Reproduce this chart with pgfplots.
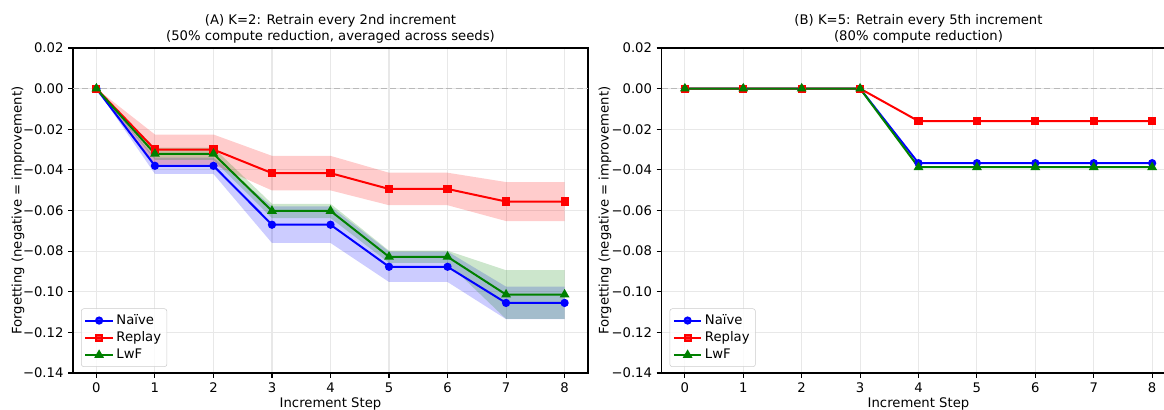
\documentclass[border=0pt]{standalone}
\usepackage{fontspec}
\setmainfont{DejaVu Sans}
\usepackage{pgfplots}
\pgfplotsset{compat=1.18}
\usepackage{pgfplotstable}

\newlength\px \setlength\px{0.75pt}
\newcommand\fs{\fontsize{9.9}{11.9}\selectfont}

\definecolor{mgreen}{RGB}{0,128,0}

% K=2 means
\pgfplotstableread{
x naive replay lwf
0 0 0 0
1 -0.0380 -0.0300 -0.0321
2 -0.0380 -0.0300 -0.0321
3 -0.0670 -0.0416 -0.0602
4 -0.0670 -0.0416 -0.0602
5 -0.0877 -0.0494 -0.0828
6 -0.0877 -0.0494 -0.0828
7 -0.1055 -0.0556 -0.1014
8 -0.1055 -0.0556 -0.1014
}\kleft

% K=5 means
\pgfplotstableread{
x naive replay lwf
0 0 0 0
1 0 0 0
2 0 0 0
3 0 0 0
4 -0.0367 -0.0160 -0.0387
5 -0.0367 -0.0160 -0.0387
6 -0.0367 -0.0160 -0.0387
7 -0.0367 -0.0160 -0.0387
8 -0.0367 -0.0160 -0.0387
}\kright

\pgfplotsset{
  panel/.style={
    scale only axis, height=325\px,
    xmin=-0.4, xmax=8.4, ymin=-0.14, ymax=0.02,
    xtick={0,1,2,3,4,5,6,7,8},
    ytick={-0.14,-0.12,-0.10,-0.08,-0.06,-0.04,-0.02,0,0.02},
    yticklabels={−0.14,−0.12,−0.10,−0.08,−0.06,−0.04,−0.02,0.00,0.02},
    /pgf/number format/assume math mode=true,
    ticklabel style={font=\fs},
    label style={font=\fs},
    xlabel style={yshift=4\px},
    title style={font=\fs, align=center, yshift=-8\px},
    tick align=outside, xtick pos=bottom, ytick pos=left,
    major tick length=3.6pt,
    every tick/.style={black, line width=0.8pt},
    axis line style={black, line width=0.8pt},
    grid=major, major grid style={black!9, line width=0.8pt},
    xlabel={Increment Step},
    ylabel={Forgetting (negative = improvement)},
    legend cell align=left,
    legend style={at={(0,0)}, anchor=south west, xshift=8\px, yshift=6\px,
      font=\fs, draw=black!20, rounded corners=2pt, fill=white,
      fill opacity=0.8, text opacity=1, inner sep=2.4pt},
    legend image code/.code={\draw[mark repeat=2, mark phase=2]
      plot coordinates {(0cm,0cm) (0.36cm,0cm) (0.72cm,0cm)};},
    every axis plot/.append style={line width=1.5pt, mark size=2.3pt},
  },
  band/.style={draw=none, fill=#1, fill opacity=0.2, forget plot, mark=none},
}

\begin{document}
\begin{tikzpicture}

\begin{axis}[panel, at={(73\px,37\px)}, anchor=south west, width=515\px,
  ylabel style={at={(axis description cs:-0.1068,0.5)}, anchor=center},
  title={(A) K=2: Retrain every 2nd increment\\(50\% compute reduction, averaged across seeds)}]
\addplot[gray!55, dash pattern=on 4.5pt off 2.5pt, line width=0.9pt, forget plot] coordinates {(-0.4,0) (8.4,0)};
% bands: upper edge left to right, then lower edge back
\addplot[band=blue] coordinates {
(0,0) (1,-0.0340) (2,-0.0340) (3,-0.0580) (4,-0.0580) (5,-0.0802) (6,-0.0802) (7,-0.0975) (8,-0.0975)
(8,-0.1135) (7,-0.1135) (6,-0.0952) (5,-0.0952) (4,-0.0760) (3,-0.0760) (2,-0.0420) (1,-0.0420) (0,0)} \closedcycle;
\addplot[band=red] coordinates {
(0,0) (1,-0.0226) (2,-0.0226) (3,-0.0331) (4,-0.0331) (5,-0.0414) (6,-0.0414) (7,-0.0460) (8,-0.0460)
(8,-0.0652) (7,-0.0652) (6,-0.0574) (5,-0.0574) (4,-0.0501) (3,-0.0501) (2,-0.0374) (1,-0.0374) (0,0)} \closedcycle;
\addplot[band=mgreen] coordinates {
(0,0) (1,-0.0291) (2,-0.0291) (3,-0.0567) (4,-0.0567) (5,-0.0798) (6,-0.0798) (7,-0.0894) (8,-0.0894)
(8,-0.1134) (7,-0.1134) (6,-0.0858) (5,-0.0858) (4,-0.0637) (3,-0.0637) (2,-0.0351) (1,-0.0351) (0,0)} \closedcycle;
\addplot[blue, mark=*] table[x=x, y=naive] {\kleft};
\addplot[red, mark=square*] table[x=x, y=replay] {\kleft};
\addplot[mgreen, mark=triangle*, mark size=2.8pt] table[x=x, y=lwf] {\kleft};
\legend{Naïve,Replay,LwF}
\end{axis}

\begin{axis}[panel, at={(661.5\px,37\px)}, anchor=south west, width=514\px,
  ylabel style={at={(axis description cs:-0.11,0.5)}, anchor=center},
  title={(B) K=5: Retrain every 5th increment\\(80\% compute reduction)}]
\addplot[gray!55, dash pattern=on 4.5pt off 2.5pt, line width=0.9pt, forget plot] coordinates {(-0.4,0) (8.4,0)};
\addplot[blue, mark=*] table[x=x, y=naive] {\kright};
\addplot[red, mark=square*] table[x=x, y=replay] {\kright};
\addplot[mgreen, mark=triangle*, mark size=2.8pt] table[x=x, y=lwf] {\kright};
\legend{Naïve,Replay,LwF}
\end{axis}

\pgfresetboundingbox
\useasboundingbox (0,0) rectangle (1164\px,410\px);
\end{tikzpicture}
\end{document}
